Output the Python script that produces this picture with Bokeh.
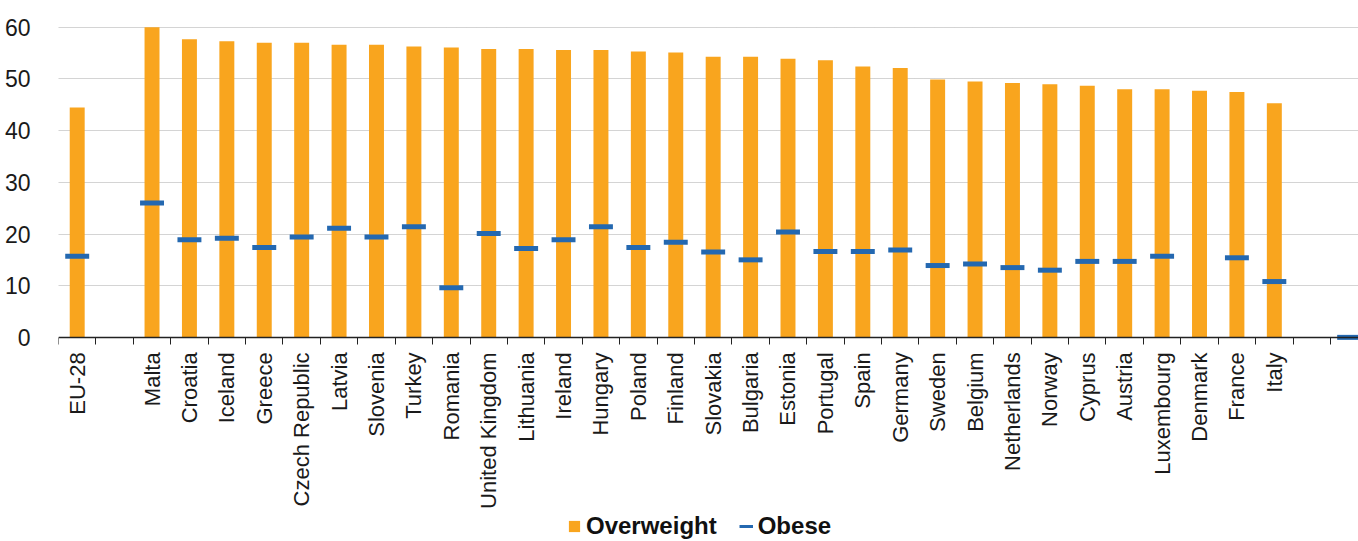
import math
from bokeh.plotting import figure
from bokeh.models import ColumnDataSource, FixedTicker, Legend, LegendItem, Range1d
from bokeh.embed import file_html
from bokeh.resources import INLINE

categories = ["EU-28", "", "Malta", "Croatia", "Iceland", "Greece", "Czech Republic",
              "Latvia", "Slovenia", "Turkey", "Romania", "United Kingdom", "Lithuania",
              "Ireland", "Hungary", "Poland", "Finland", "Slovakia", "Bulgaria", "Estonia",
              "Portugal", "Spain", "Germany", "Sweden", "Belgium", "Netherlands", "Norway",
              "Cyprus", "Austria", "Luxembourg", "Denmark", "France", "Italy", "", ""]
NaN = float("nan")
overweight = [44.5, NaN, 60.0, 57.7, 57.3, 57.0, 57.0,
              56.6, 56.6, 56.3, 56.1, 55.8, 55.8,
              55.6, 55.6, 55.3, 55.1, 54.3, 54.3, 53.9,
              53.6, 52.4, 52.1, 49.9, 49.5, 49.2, 49.0,
              48.7, 48.0, 48.0, 47.7, 47.5, 45.3, NaN, NaN]
obese = [15.7, NaN, 26.0, 18.9, 19.2, 17.4, 19.4,
         21.1, 19.4, 21.4, 9.6, 20.1, 17.2,
         18.9, 21.4, 17.4, 18.4, 16.5, 15.0, 20.4,
         16.6, 16.6, 16.9, 13.9, 14.2, 13.5, 13.0,
         14.7, 14.7, 15.7, NaN, 15.4, 10.8, NaN, 0.0]
y_ticks = [0, 10, 20, 30, 40, 50, 60]

ORANGE = "#F9A51E"
BLUE = "#2468B0"
FONT = "Liberation Sans"

xs = list(range(len(categories)))
src = ColumnDataSource(dict(x=xs, ow=overweight, ob=obese))

# frame spans the whole height below the top border; the x axis sits at y=0
p = figure(frame_width=1300, frame_height=531,
           x_range=Range1d(-0.5, 34.25), y_range=Range1d(-39.5, 63.25),
           output_backend="svg", toolbar_location=None,
           min_border_left=58, min_border_right=0, min_border_top=10, min_border_bottom=0)
p.outline_line_color = None
p.background_fill_color = "white"

bars = p.vbar(x="x", top="ow", width=0.4, source=src, fill_color=ORANGE,
              line_color=None)
p.rect(x="x", y="ob", width=0.64, height=5, height_units="screen", source=src,
       fill_color=BLUE, line_color=None)
# legend proxy for the obese dash
ob_proxy = p.line(x=[NaN], y=[NaN], line_color=BLUE, line_width=3)

# y axis
p.yaxis.ticker = FixedTicker(ticks=y_ticks)
p.yaxis.axis_line_color = None
p.yaxis.major_tick_line_color = None
p.yaxis.minor_tick_line_color = None
p.yaxis.major_label_standoff = 22
p.yaxis.major_label_text_font = FONT
p.yaxis.major_label_text_font_size = "23px"
p.yaxis.major_label_text_color = "#1a1a1a"

p.ygrid.ticker = FixedTicker(ticks=y_ticks[1:])
p.ygrid.grid_line_color = "#A8A8A8"
p.ygrid.grid_line_dash = "1 1"
p.ygrid.grid_line_width = 1
p.xgrid.grid_line_color = None

# x axis: labels at centres, tick marks at boundaries, fixed at y=0
boundaries = [i - 0.5 for i in range(len(categories) + 1)]
p.xaxis.fixed_location = 0
p.xaxis.ticker = FixedTicker(ticks=xs, minor_ticks=boundaries)
p.xaxis.major_label_overrides = {i: c for i, c in enumerate(categories)}
p.xaxis.major_label_orientation = math.pi / 2
p.xaxis.major_tick_line_color = None
p.xaxis.major_tick_out = 0
p.xaxis.major_tick_in = 0
p.xaxis.minor_tick_line_color = "#222222"
p.xaxis.minor_tick_line_width = 1
p.xaxis.minor_tick_out = 7
p.xaxis.minor_tick_in = 0
p.xaxis.axis_line_color = "#222222"
p.xaxis.axis_line_width = 1.5
p.xaxis.major_label_standoff = 8
p.xaxis.major_label_text_font = FONT
p.xaxis.major_label_text_font_size = "22px"
p.xaxis.major_label_text_color = "#1a1a1a"

legend = Legend(items=[LegendItem(label="Overweight", renderers=[bars]),
                       LegendItem(label="Obese", renderers=[ob_proxy])],
                orientation="horizontal", location=(509, 1),
                border_line_color=None, background_fill_alpha=0,
                label_text_font=FONT, label_text_font_size="24px",
                label_text_font_style="bold", label_text_color="#111111",
                glyph_width=14, glyph_height=14, label_standoff=5, spacing=22,
                padding=0, margin=0)
p.add_layout(legend, "center")

open("out.html", "w").write(file_html(p, INLINE))
